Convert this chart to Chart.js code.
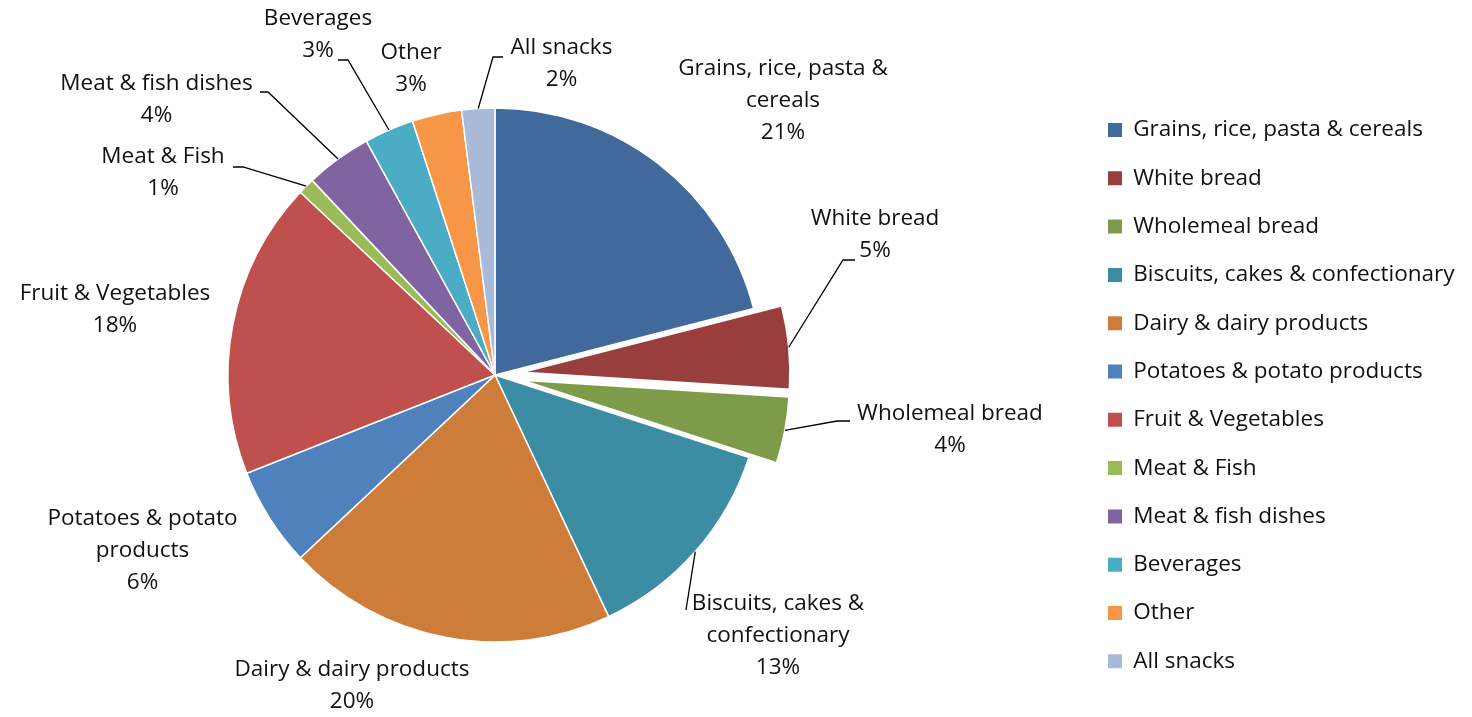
<!DOCTYPE html>
<html>
<head>
<meta charset="utf-8">
<script src="https://cdn.jsdelivr.net/npm/chart.js@4.4.1/dist/chart.umd.min.js"></script>
<style>
  html, body { margin: 0; padding: 0; background: #ffffff; overflow: hidden; }
  canvas { display: block; }
</style>
</head>
<body>
<canvas id="foodChart"></canvas>
<script>
// Food groups and their share of the total (percent)
const categories = [
  'Grains, rice, pasta & cereals',
  'White bread',
  'Wholemeal bread',
  'Biscuits, cakes & confectionary',
  'Dairy & dairy products',
  'Potatoes & potato products',
  'Fruit & Vegetables',
  'Meat & Fish',
  'Meat & fish dishes',
  'Beverages',
  'Other',
  'All snacks'
];
const shares = [21, 5, 4, 13, 20, 6, 18, 1, 4, 3, 3, 2];
const sliceColors = [
  '#41699b', '#983e3c', '#7e9b4a', '#3c8da3', '#cd7c39', '#4f81bd',
  '#c0504d', '#9bbb59', '#8064a2', '#4bacc6', '#f79646', '#a9bad9'
];
const explodedSlices = ['White bread', 'Wholemeal bread'];

// ---- layout ----
const W = 1472, H = 717;
// the canvas overhangs the left edge so the pie can sit left of its plot-area centre
const OVERHANG = 100;
const CW = W + OVERHANG;
const PIE_CX = 495 + OVERHANG, PIE_CY = 375, PIE_R = 267;
const EXPLODE = 0.105;              // pull-out distance, fraction of radius
const FONT_FAMILY = "'Open Sans', Lato, sans-serif";
const FONT_SIZE = 22.5;
const LINE_H = 32;
const WRAP_W = 11.8 * FONT_SIZE;
const TEXT_COLOR = '#111111';
const LEGEND_X = 1108 + OVERHANG, LEGEND_FIRST_Y = 130 - FONT_SIZE / 2;
const LEGEND_STEP = 48.3, LEGEND_BOX = 14;
const LEGEND_PAD = LEGEND_STEP - FONT_SIZE;

// label block centres, in radii from the pie centre
const labelSpots = [
  [1.0787, -1.0262], [1.4232, -0.5243], [1.7041, 0.2041], [1.0599, 0.9775],
  [-0.5356, 1.1648], [-1.3202, 0.6592], [-1.4232, -0.2434], [-1.2434, -0.7566],
  [-1.2678, -1.0318], [-0.6629, -1.2753], [-0.3146, -1.1479], [0.2491, -1.1667]
];
// leader lines: [end dx, end dy from label centre, elbow stub length] or null
const leaders = [
  null, [-20, 25, -12], [-100, -8.5, -13], [-92, -26, 0],
  null, null, null, [70, -6, 10],
  [103.5, -7.5, 8], [20, 25.5, 10], null, [-58.5, -6.5, -10]
];

const canvas = document.getElementById('foodChart');
canvas.width = CW;
canvas.height = H;
canvas.style.marginLeft = (-OVERHANG) + 'px';

// starting padding estimate (legend aligned to the bottom of its column)
const measureCtx = document.createElement('canvas').getContext('2d');
measureCtx.font = `${FONT_SIZE}px ${FONT_FAMILY}`;
const legendTextW = Math.max(...categories.map(c => measureCtx.measureText(c).width));
const legendBoxW = LEGEND_PAD + (LEGEND_BOX + FONT_SIZE / 2 + legendTextW) + 10;
const legendLeft = LEGEND_X - LEGEND_PAD;
const padding = {
  left: Math.max(2 * PIE_CX - legendLeft, 0),
  right: CW - legendLeft - legendBoxW,
  bottom: H - (LEGEND_FIRST_Y + categories.length * LEGEND_STEP),
  top: 0
};
padding.top = 2 * PIE_CY - (H - padding.bottom);

function wrapText(ctx, text, maxW) {
  const words = text.split(' ');
  const lines = [];
  let cur = '';
  words.forEach(w => {
    const test = cur ? cur + ' ' + w : w;
    if (cur && ctx.measureText(test).width > maxW) { lines.push(cur); cur = w; }
    else cur = test;
  });
  if (cur) lines.push(cur);
  return lines;
}

function isExploded(i) { return explodedSlices.includes(categories[i]); }

// pulls the chosen slices out along their middle angle
const explodePlugin = {
  id: 'explodeSlices',
  afterDatasetUpdate(chart) {
    const meta = chart.getDatasetMeta(0);
    meta.data.forEach((arc, i) => {
      if (!isExploded(i)) return;
      const mid = (arc.startAngle + arc.endAngle) / 2;
      const d = arc.outerRadius * EXPLODE;
      arc.x += Math.cos(mid) * d;
      arc.y += Math.sin(mid) * d;
    });
  }
};

// category name + percentage outside each slice, with leader lines
const sliceLabels = {
  id: 'sliceLabels',
  afterDatasetsDraw(chart) {
    const meta = chart.getDatasetMeta(0);
    const ctx = chart.ctx;
    const total = shares.reduce((a, b) => a + b, 0);
    const base = meta.data.find((a, i) => !isExploded(i));
    const cx = base.x, cy = base.y, r = base.outerRadius;
    ctx.save();
    ctx.font = `${FONT_SIZE}px ${FONT_FAMILY}`;
    ctx.fillStyle = TEXT_COLOR;
    ctx.strokeStyle = '#000000';
    ctx.lineWidth = 1.3;
    ctx.textAlign = 'center';
    ctx.textBaseline = 'middle';
    meta.data.forEach((arc, i) => {
      const lx = cx + labelSpots[i][0] * r;
      const ly = cy + labelSpots[i][1] * r;
      const pct = Math.round(shares[i] / total * 100) + '%';
      const lines = wrapText(ctx, categories[i], WRAP_W).concat([pct]);
      lines.forEach((t, k) => ctx.fillText(t, lx, ly + (k - (lines.length - 1) / 2) * LINE_H));
      const lead = leaders[i];
      if (lead) {
        const mid = (arc.startAngle + arc.endAngle) / 2;
        const sx = arc.x + Math.cos(mid) * arc.outerRadius;
        const sy = arc.y + Math.sin(mid) * arc.outerRadius;
        const ex = lx + lead[0], ey = ly + lead[1];
        ctx.beginPath();
        ctx.moveTo(sx, sy);
        ctx.lineTo(ex + lead[2], ey);
        ctx.lineTo(ex, ey);
        ctx.stroke();
      }
    });
    ctx.restore();
  }
};

const chart = new Chart(canvas, {
  type: 'pie',
  data: {
    labels: categories,
    datasets: [{
      data: shares,
      backgroundColor: sliceColors,
      borderColor: '#ffffff',
      borderWidth: 1.5
    }]
  },
  options: {
    responsive: false,
    devicePixelRatio: 1,
    animation: false,
    radius: PIE_R,
    layout: { padding: Object.assign({}, padding) },
    plugins: {
      tooltip: { enabled: false },
      legend: {
        position: 'right',
        align: 'end',
        labels: {
          boxWidth: LEGEND_BOX,
          boxHeight: LEGEND_BOX,
          padding: LEGEND_PAD,
          color: TEXT_COLOR,
          font: { family: FONT_FAMILY, size: FONT_SIZE },
          generateLabels(chart) {
            return Chart.overrides.pie.plugins.legend.labels.generateLabels(chart)
              .map(item => Object.assign(item, { lineWidth: 0 }));
          }
        }
      }
    }
  },
  plugins: [explodePlugin, sliceLabels]
});

// settle the padding so the legend column and the pie centre sit where intended
for (let pass = 0; pass < 4; pass++) {
  const hb = chart.legend.legendHitBoxes[0];
  const meta = chart.getDatasetMeta(0);
  const base = meta.data.find((a, i) => !isExploded(i));
  const dxL = LEGEND_X - hb.left, dyL = LEGEND_FIRST_Y - hb.top;
  const dxP = PIE_CX - base.x, dyP = PIE_CY - base.y;
  if (Math.abs(dxL) + Math.abs(dyL) + Math.abs(dxP) + Math.abs(dyP) < 0.5) break;
  padding.right -= dxL;
  padding.left = Math.max(padding.left + 2 * dxP - dxL, 0);
  padding.bottom -= dyL;
  padding.top += 2 * dyP - dyL;
  chart.options.layout.padding = Object.assign({}, padding);
  chart.update('none');
}
</script>
</body>
</html>
